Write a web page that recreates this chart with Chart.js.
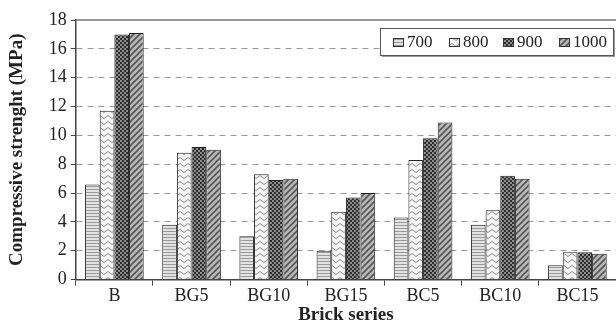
<!DOCTYPE html>
<html>
<head>
  <title>Brick Strength</title>
  <style>
    html, body { margin: 0; padding: 0; background: #fff; }
    #wrap { width: 616px; height: 326px; }
  </style>
</head>
<body>
  <div id="wrap"><canvas id="chart"></canvas></div>

  <script src="https://cdn.jsdelivr.net/npm/chart.js@4/dist/chart.umd.min.js"></script>

  <script>
    const categories = ['B', 'BG5', 'BG10', 'BG15', 'BC5', 'BC10', 'BC15'];
    const seriesNames = ['700', '800', '900', '1000'];
    const s700 = [6.6, 3.8, 3.0, 2.0, 4.3, 3.8, 1.0];
    const s800 = [11.7, 8.8, 7.3, 4.7, 8.3, 4.8, 1.9];
    const s900 = [17.0, 9.2, 6.9, 5.7, 9.8, 7.2, 1.9];
    const s1000 = [17.1, 9.0, 7.0, 6.0, 10.9, 7.0, 1.8];
    const yTicks = [0, 2, 4, 6, 8, 10, 12, 14, 16, 18];

    const FONT = '"Liberation Serif", "DejaVu Serif", serif';

    // small canvas patterns like the printed hatching
    function makePattern(kind) {
      const c = document.createElement('canvas');
      const ctx = c.getContext('2d');
      if (kind === 'hlines') {
        c.width = 4; c.height = 3;
        ctx.fillStyle = '#e2e2e2'; ctx.fillRect(0, 0, 4, 3);
        ctx.fillStyle = '#9a9a9a'; ctx.fillRect(0, 0, 4, 1);
      } else if (kind === 'zigzag') {
        c.width = 8; c.height = 6;
        ctx.fillStyle = '#f4f4f4'; ctx.fillRect(0, 0, 8, 6);
        ctx.strokeStyle = '#8a8a8a'; ctx.lineWidth = 1;
        ctx.beginPath();
        ctx.moveTo(0, 4.5); ctx.lineTo(4, 1.5); ctx.lineTo(8, 4.5);
        ctx.stroke();
      } else if (kind === 'checker') {
        c.width = 4; c.height = 4;
        ctx.fillStyle = '#2e2e2e'; ctx.fillRect(0, 0, 4, 4);
        ctx.fillStyle = '#8c8c8c';
        ctx.fillRect(0, 0, 2, 2); ctx.fillRect(2, 2, 2, 2);
      } else {
        c.width = 6; c.height = 6;
        ctx.fillStyle = '#b8b8b8'; ctx.fillRect(0, 0, 6, 6);
        ctx.strokeStyle = '#555'; ctx.lineWidth = 1.6;
        ctx.beginPath();
        ctx.moveTo(-1, 7); ctx.lineTo(7, -1);
        ctx.moveTo(-4, 4); ctx.lineTo(4, -4);
        ctx.moveTo(2, 10); ctx.lineTo(10, 2);
        ctx.stroke();
      }
      return document.getElementById('chart').getContext('2d').createPattern(c, 'repeat');
    }

    const fills = [makePattern('hlines'), makePattern('zigzag'), makePattern('checker'), makePattern('diag')];
    const seriesData = [s700, s800, s900, s1000];

    // legend box drawn inside the plot, top right
    const boxLegend = {
      id: 'boxLegend',
      afterDraw(chart) {
        const ctx = chart.ctx;
        const x = 380, y = 28, w = 233, h = 27;
        ctx.save();
        ctx.fillStyle = '#9a9a9a';
        ctx.fillRect(x + 2, y + 2, w, h);
        ctx.fillStyle = '#fff';
        ctx.fillRect(x, y, w, h);
        ctx.strokeStyle = '#555';
        ctx.lineWidth = 1;
        ctx.strokeRect(x + 0.5, y + 0.5, w, h);
        const xs = [393, 449, 503, 559];
        ctx.font = '17px ' + FONT;
        ctx.textBaseline = 'middle';
        seriesNames.forEach((n, i) => {
          ctx.fillStyle = fills[i];
          ctx.fillRect(xs[i], y + 10, 10, 8);
          ctx.strokeStyle = '#333';
          ctx.strokeRect(xs[i] + 0.5, y + 10.5, 10, 8);
          ctx.fillStyle = '#222';
          ctx.fillText(n, xs[i] + 14, y + 15);
        });
        ctx.restore();
      }
    };

    // solid top frame line at 18
    const topLine = {
      id: 'topLine',
      afterDatasetsDraw(chart) {
        const a = chart.chartArea, ctx = chart.ctx;
        ctx.save();
        ctx.strokeStyle = '#777';
        ctx.lineWidth = 1.5;
        ctx.beginPath();
        ctx.moveTo(a.left, a.top);
        ctx.lineTo(a.right, a.top);
        ctx.stroke();
        ctx.restore();
      }
    };

    new Chart(document.getElementById('chart'), {
      type: 'bar',
      data: {
        labels: categories,
        datasets: seriesNames.map((n, i) => ({
          label: n,
          data: seriesData[i],
          backgroundColor: fills[i],
          borderColor: '#222',
          borderWidth: 1,
          categoryPercentage: 0.76,
          barPercentage: 1.0
        }))
      },
      options: {
        responsive: true,
        maintainAspectRatio: false,
        animation: false,
        layout: { padding: { top: 20, right: 0, left: 6, bottom: 0 } },
        plugins: {
          legend: { display: false },
          tooltip: { enabled: false }
        },
        scales: {
          x: {
            grid: { display: true, drawOnChartArea: false, drawTicks: true, tickLength: 6, color: '#444' },
            border: { color: '#444', width: 1.5 },
            ticks: { color: '#222', font: { family: FONT, size: 18 }, padding: 0 },
            title: { display: true, text: 'Brick series', color: '#222', font: { family: FONT, size: 19, weight: 'bold' }, padding: { top: -4, bottom: 0 } }
          },
          y: {
            min: 0,
            max: 18,
            afterBuildTicks: (axis) => { axis.ticks = yTicks.map(v => ({ value: v })); },
            grid: {
              color: (c) => (c.tick && (c.tick.value === 0 || c.tick.value === 18)) ? 'rgba(0,0,0,0)' : '#999',
              tickColor: '#444',
              tickLength: 5,
              lineWidth: 1
            },
            border: { color: '#444', width: 1.5, dash: [6, 5] },
            ticks: { color: '#222', font: { family: FONT, size: 18 }, padding: 4 },
            title: { display: true, text: 'Compressive strenght (MPa)', color: '#222', font: { family: FONT, size: 19, weight: 'bold' }, padding: { top: 0, bottom: 16 } }
          }
        }
      },
      plugins: [topLine, boxLegend]
    });
  </script>
</body>
</html>
